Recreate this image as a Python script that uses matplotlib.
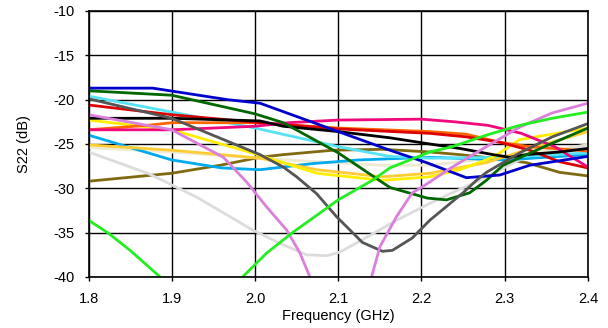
"""S22 vs frequency, many traces on one axis."""

import matplotlib
matplotlib.use("Agg")
import matplotlib.pyplot as plt
import numpy as np

nan = np.nan

# (freq GHz, S22 dB), one pair of lists per trace
olive_f = [1.8, 1.9, 1.958, 2.006, 2.034, 2.094, 2.153, 2.21, 2.246, 2.286, 2.326, 2.366, 2.4]
olive_db = [-29.2, -28.3, -27.4, -26.5, -26.2, -25.7, -25.6, -25.9, -26.2, -26.6, -27.1, -28.2, -28.6]

beige_f = [1.8, 1.9, 2.006, 2.074, 2.153, 2.21, 2.294, 2.4]
beige_db = [-25.4, -25.9, -26.6, -27.0, -27.4, -27.4, -26.5, -25.1]

ltgray_f = [1.8, 1.871, 1.889, 1.93, 1.961, 1.997, 2.03, 2.062, 2.086, 2.102, 2.129, 2.17,
            2.21, 2.237, 2.258, 2.278, 2.318, 2.357, 2.4]
ltgray_db = [-25.9, -28.3, -29.1, -31.0, -32.7, -34.7, -36.2, -37.5, -37.6, -37.2, -35.8, -33.6,
             -31.7, -30.5, -29.6, -28.7, -26.8, -25.9, -25.1]

sky_f = [1.8, 1.9, 1.96, 2.006, 2.07, 2.125, 2.21, 2.3, 2.4]
sky_db = [-24.0, -26.8, -27.7, -27.9, -27.2, -26.8, -26.5, -26.8, -26.2]

cyan_f = [1.8, 1.9, 2.0, 2.1, 2.162, 2.21, 2.3, 2.4]
cyan_db = [-19.6, -21.4, -23.2, -25.3, -26.4, -26.6, -26.5, -26.0]

gold_f = [1.8, 1.9, 2.006, 2.074, 2.153, 2.21, 2.278, 2.338, 2.4]
gold_db = [-25.1, -25.7, -26.6, -27.9, -28.7, -28.3, -27.1, -25.3, -23.6]

yellow_f = [1.8, 1.9, 2.0, 2.074, 2.153, 2.21, 2.246, 2.286, 2.318, 2.4]
yellow_db = [-22.3, -23.4, -26.1, -28.3, -29.1, -28.7, -27.9, -26.5, -24.5, -23.2]

orange_f = [1.8, 1.87, 1.9, 2.0, 2.1, 2.21, 2.254, 2.294, 2.33, 2.4]
orange_db = [-23.4, -22.9, -22.6, -22.6, -23.2, -23.6, -23.9, -24.8, -25.3, -25.8]

red_f = [1.8, 1.9, 2.006, 2.1, 2.21, 2.254, 2.294, 2.33, 2.366, 2.4]
red_db = [-20.6, -21.7, -22.6, -23.3, -23.8, -24.2, -24.8, -25.7, -27.0, -27.7]

pink_f = [1.8, 1.9, 2.0, 2.04, 2.1, 2.2, 2.24, 2.28, 2.32, 2.36, 2.4]
pink_db = [-23.4, -23.4, -23.0, -22.6, -22.3, -22.2, -22.5, -22.9, -23.8, -25.3, -27.6]

black_f = [1.8, 1.9, 2.006, 2.034, 2.1, 2.162, 2.21, 2.246, 2.286, 2.306, 2.326, 2.366, 2.4]
black_db = [-22.1, -22.1, -22.4, -23.0, -23.6, -24.3, -25.0, -25.5, -26.2, -26.5, -26.2, -25.9, -25.5]

dkgreen_f = [1.8, 1.9, 2.0, 2.034, 2.1, 2.162, 2.207, 2.23, 2.258, 2.278, 2.298, 2.35, 2.4]
dkgreen_db = [-19.0, -19.5, -21.6, -22.6, -26.0, -29.9, -31.1, -31.3, -30.5, -29.1, -27.4, -25.2, -23.2]

blue_f = [1.8, 1.877, 1.967, 2.006, 2.1, 2.162, 2.206, 2.254, 2.294, 2.33, 2.4]
blue_db = [-18.7, -18.7, -20.0, -20.4, -23.6, -25.7, -27.1, -28.8, -28.5, -27.4, -26.4]

dkgray_f = [1.8, 1.9, 2.006, 2.034, 2.05, 2.074, 2.098, 2.129, 2.153, 2.165, 2.189, 2.21,
            2.25, 2.266, 2.278, 2.318, 2.357, 2.4]
dkgray_db = [-19.9, -22.1, -26.2, -27.6, -28.7, -30.6, -33.2, -36.1, -37.1, -37.0, -35.6, -33.6,
             -30.5, -29.1, -28.2, -26.0, -24.2, -22.7]

# nan marks where the trace drops below the -40 dB floor
orchid_f = [1.8, 1.9, 1.962, 1.99, 2.014, 2.038, 2.054, 2.066, nan, 2.14, 2.15, 2.17, 2.189,
            2.2, 2.237, 2.278, 2.318, 2.357, 2.4]
orchid_db = [-21.7, -23.4, -26.5, -29.3, -32.1, -34.7, -37.3, -40.0, nan, -40.0, -36.6, -33.2, -30.5,
             -29.9, -27.6, -25.3, -23.1, -21.5, -20.4]

green_f = [1.8, 1.823, 1.85, 1.886, nan, 1.985, 2.014, 2.045, 2.1, 2.141, 2.162, 2.21, 2.237,
           2.278, 2.318, 2.357, 2.4]
green_db = [-33.6, -35.0, -37.0, -40.0, nan, -40.0, -37.3, -35.0, -31.3, -29.1, -27.7, -25.9, -25.3,
            -24.0, -22.9, -22.1, -21.4]

traces = [
    (olive_f, olive_db, "#7F6A10"),
    (beige_f, beige_db, "#EEEAD0"),
    (ltgray_f, ltgray_db, "#DCDCDC"),
    (sky_f, sky_db, "#00AAEE"),
    (cyan_f, cyan_db, "#55E3F5"),
    (gold_f, gold_db, "#FFCC33"),
    (yellow_f, yellow_db, "#FFEE00"),
    (orange_f, orange_db, "#FF6600"),
    (red_f, red_db, "#DD0000"),
    (pink_f, pink_db, "#F0087C"),
    (black_f, black_db, "#000000"),
    (dkgreen_f, dkgreen_db, "#006600"),
    (blue_f, blue_db, "#0000CC"),
    (dkgray_f, dkgray_db, "#555555"),
    (orchid_f, orchid_db, "#DA7FDA"),
    (green_f, green_db, "#22EE22"),
]

plt.rcParams["font.family"] = ["Liberation Sans", "DejaVu Sans"]
plt.rcParams["axes.unicode_minus"] = False

fig = plt.figure(figsize=(6.08, 3.28), dpi=100)
ax = fig.add_axes([0.1456, 0.1555, 0.8214, 0.811])

for f, db, c in traces:
    ax.plot(f, db, color=c, lw=2.0, solid_capstyle="butt")

ax.set_xlim(1.8, 2.4)
ax.set_ylim(-40, -10)
ax.set_xticks(np.arange(1.8, 2.41, 0.1))
ax.set_xticklabels(["1.8", "1.9", "2.0", "2.1", "2.2", "2.3", "2.4"])
ax.set_yticks(np.arange(-40, -9, 5))
ax.grid(True, color="black", lw=1.0)
ax.set_axisbelow(True)
for s in ax.spines.values():
    s.set_color("black")
    s.set_linewidth(1.2)
ax.tick_params(direction="out", length=3, width=1, labelsize=10.5, colors="black")
ax.tick_params(axis="x", pad=8)
ax.tick_params(axis="y", pad=7)
ax.set_xlabel("Frequency (GHz)", fontsize=10.5, labelpad=2)
ax.set_ylabel("S22 (dB)", fontsize=10.5, labelpad=16)

fig.savefig("out.png", dpi=100)
